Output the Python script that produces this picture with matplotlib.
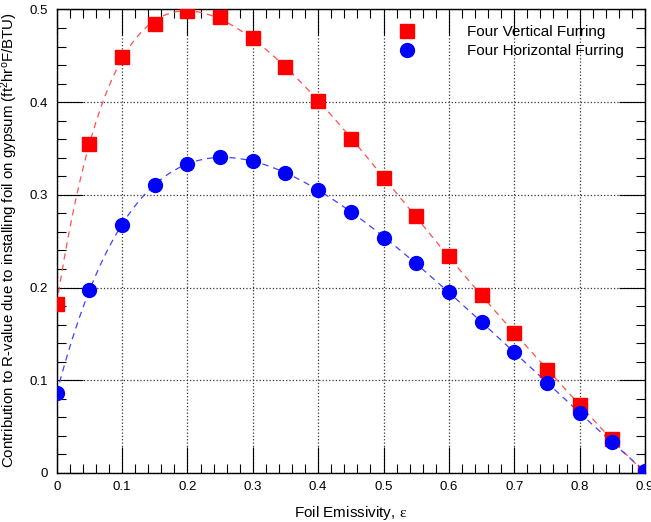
import numpy as np
import matplotlib.pyplot as plt
from matplotlib.ticker import MultipleLocator

plt.rcParams['font.family'] = ['Liberation Sans', 'DejaVu Sans']
plt.rcParams['mathtext.fontset'] = 'custom'
plt.rcParams['mathtext.rm'] = 'Liberation Serif'
plt.rcParams['mathtext.sf'] = 'Liberation Sans'
plt.rcParams['mathtext.it'] = 'Liberation Sans:italic'

emissivity = [0.0, 0.05, 0.1, 0.15, 0.2, 0.25, 0.3, 0.35, 0.4, 0.45,
              0.5, 0.55, 0.6, 0.65, 0.7, 0.75, 0.8, 0.85, 0.9]
vertical = [0.182, 0.355, 0.449, 0.484, 0.498, 0.492, 0.469, 0.438, 0.401, 0.360,
            0.318, 0.277, 0.234, 0.192, 0.151, 0.111, 0.073, 0.037, 0.0]
horizontal = [0.086, 0.197, 0.268, 0.311, 0.333, 0.341, 0.336, 0.324, 0.305, 0.282,
              0.254, 0.226, 0.195, 0.163, 0.130, 0.097, 0.065, 0.033, 0.002]

fig = plt.figure(figsize=(6.51, 5.22), dpi=100)
ax = fig.add_axes([0.0871, 0.0939, 0.9037, 0.888])

# smooth fitted curves through each series
xs = np.linspace(0, 0.9, 300)
for yv, col in [(vertical, '#ff5050'), (horizontal, '#4040ff')]:
    coef = np.polyfit(emissivity, yv, 7)
    ax.plot(xs, np.polyval(coef, xs), color=col, lw=0.9, ls=(0, (5, 4)), zorder=2)

ax.plot(emissivity, vertical, 's', color='#ff0000', ms=10, mec='#ff0000',
        label='Four Vertical Furring', zorder=3)
ax.plot(emissivity, horizontal, 'o', color='#0000ff', ms=10, mec='#0000ff',
        label='Four Horizontal Furring', zorder=4)

ax.set_xlim(0, 0.9)
ax.set_ylim(0, 0.5)
ax.xaxis.set_minor_locator(MultipleLocator(0.02))
ax.yaxis.set_minor_locator(MultipleLocator(0.02))
ax.set_xticks(np.arange(0, 0.91, 0.1))
ax.set_xticklabels(['0', '0.1', '0.2', '0.3', '0.4', '0.5', '0.6', '0.7', '0.8', '0.9'])
ax.set_yticks(np.arange(0, 0.51, 0.1))
ax.set_yticklabels(['0', '0.1', '0.2', '0.3', '0.4', '0.5'])
ax.tick_params(which='both', direction='in', top=True, right=True, labelsize=9.5, width=0.8)
ax.tick_params(which='major', length=19, pad=6)
ax.tick_params(which='minor', length=6.5)
ax.grid(True, which='major', ls=':', color='#333333', lw=0.9)
for s in ax.spines.values():
    s.set_linewidth(1.0)

ax.set_xlabel(r'Foil Emissivity, $\mathrm{\varepsilon}$', fontsize=11)
ax.xaxis.set_label_coords(0.5, -0.066)
ax.set_ylabel(r'Contribution to R-value due to installing foil on gypsum (ft$^\mathsf{2}$hr$^\mathsf{o}$F/BTU)',
              fontsize=10.8)
ax.yaxis.set_label_coords(-0.062, 0.503)

ax.legend(loc='upper left', frameon=False, fontsize=11, handlelength=1.0,
          handletextpad=3.4, borderpad=0, borderaxespad=0, labelspacing=0.32,
          bbox_to_anchor=(0.5825, 0.966))

fig.savefig('out.png', dpi=100)
